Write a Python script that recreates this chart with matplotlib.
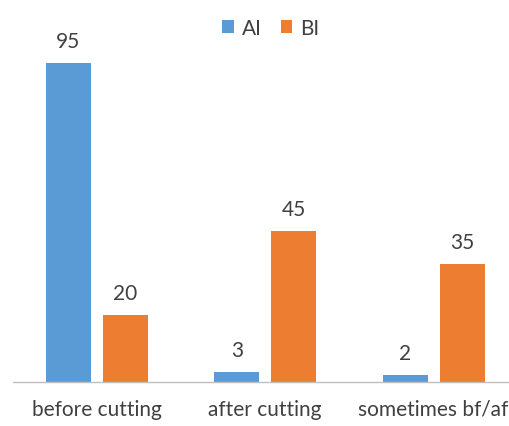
import matplotlib
matplotlib.use("Agg")
import matplotlib.pyplot as plt
import numpy as np

categories = ["before cutting", "after cutting", "sometimes bf/af"]
series_names = ["AI", "BI"]
ai_values = [95, 3, 2]
bi_values = [20, 45, 35]

colors = ["#5B9BD5", "#ED7D31"]
text_color = "#404040"

plt.rcParams["font.family"] = ["Lato", "DejaVu Sans"]

fig = plt.figure(figsize=(5.09, 4.27), dpi=100)
ax = fig.add_axes([12.75 / 509, 44 / 427, 505 / 509, 336 / 427])

x = np.arange(len(categories))
width = 0.267
offset = 0.169

for vals, name, col, sgn in [(ai_values, series_names[0], colors[0], -1),
                             (bi_values, series_names[1], colors[1], 1)]:
    bars = ax.bar(x + sgn * offset, vals, width, color=col, label=name)
    for b, v in zip(bars, vals):
        ax.annotate(str(v), (b.get_x() + b.get_width() / 2, v),
                    xytext=(0, 12), textcoords="offset pixels",
                    ha="center", va="bottom", fontsize=15, color=text_color)

ax.set_xlim(-0.5, len(categories) - 0.5)
ax.set_ylim(0, 100)
ax.set_xticks(x)
ax.set_xticklabels(categories, fontsize=15, color=text_color)
ax.tick_params(axis="x", length=0, pad=12)
ax.set_yticks([])
for s in ["top", "right", "left"]:
    ax.spines[s].set_visible(False)
ax.spines["bottom"].set_color("#BFBFBF")
ax.spines["bottom"].set_linewidth(1)

leg = fig.legend(loc="center", bbox_to_anchor=(271 / 509, 1 - 29 / 427),
                 ncol=2, frameon=False, fontsize=15, handlelength=0.55,
                 handleheight=0.55, handletextpad=0.4, columnspacing=0.9)
for t in leg.get_texts():
    t.set_color(text_color)

fig.savefig("out.png", dpi=100)
